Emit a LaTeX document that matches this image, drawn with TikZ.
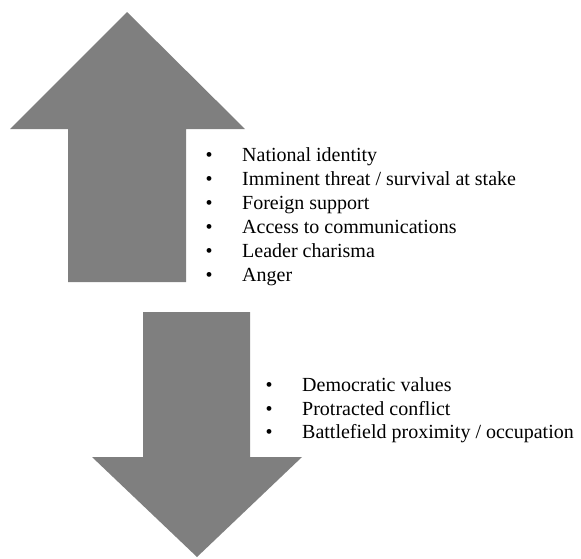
\documentclass[tikz,border=0pt]{standalone}
\usepackage{fontspec}
\setmainfont{Liberation Serif}
\definecolor{arrowgray}{HTML}{7F7F7F}
\begin{document}
\begin{tikzpicture}[x=1pt,y=-1pt,
  bigarrow/.style={fill=arrowgray,draw=none},
  itemtext/.style={anchor=base west,inner sep=0pt,font=\fontsize{20}{24}\selectfont},
  bulletmark/.style={anchor=base,inner sep=0pt,font=\fontsize{20}{24}\selectfont}]
\useasboundingbox (0,0) rectangle (581,558);

% upward arrow
\fill[bigarrow] (127,12) -- (245,129) -- (186,129) -- (186,282)
  -- (68,282) -- (68,129) -- (10,129) -- cycle;

% downward arrow
\fill[bigarrow] (143,312) -- (250,312) -- (250,457) -- (302,457)
  -- (197,557) -- (92,457) -- (143,457) -- cycle;

% factors beside the upward arrow
\foreach \t [count=\i] in {National identity,
    Imminent threat / survival at stake,
    Foreign support,
    Access to communications,
    Leader charisma,
    Anger}{
  \node[bulletmark] (ub\i) at (209,{137+24*\i}) {•};
  \node[itemtext] (ut\i) at (242,{137+24*\i}) {\t};
}

% factors beside the downward arrow
\foreach \t [count=\i] in {Democratic values,
    Protracted conflict,
    Battlefield proximity / occupation}{
  \node[bulletmark] (db\i) at (269,{368+23.5*\i}) {•};
  \node[itemtext] (dt\i) at (302,{368+23.5*\i}) {\t};
}
\end{tikzpicture}
\end{document}
